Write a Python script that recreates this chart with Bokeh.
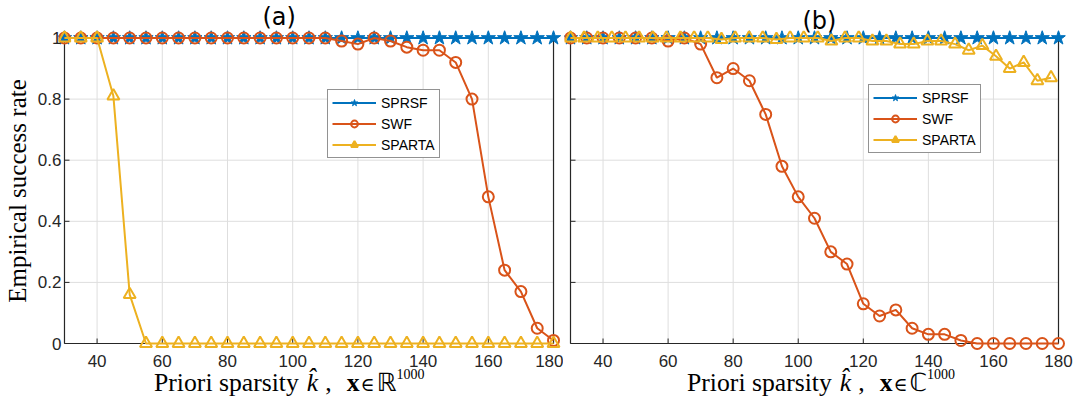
from bokeh.plotting import figure
from bokeh.models import Range1d, Legend, LegendItem, FixedTicker, Div
from bokeh.layouts import row, column
from bokeh.embed import file_html
from bokeh.resources import INLINE

# ---------------- data ----------------
k = [30, 35, 40, 45, 50, 55, 60, 65, 70, 75, 80, 85, 90, 95, 100, 105,
     110, 115, 120, 125, 130, 135, 140, 145, 150, 155, 160, 165, 170, 175, 180]

# panel (a): real signals
sprsf_a = [1, 1, 1, 1, 1, 1, 1, 1, 1, 1, 1, 1, 1, 1, 1, 1,
           1, 1, 1, 1, 1, 1, 1, 1, 1, 1, 1, 1, 1, 1, 1]
swf_a = [1, 1, 1, 1, 1, 1, 1, 1, 1, 1, 1, 1, 1, 1, 1, 1,
         1, 0.99, 0.98, 1.0, 0.99, 0.97, 0.96, 0.96, 0.92, 0.80, 0.48, 0.24, 0.17, 0.05, 0.01]
sparta_a = [1, 1, 1, 0.81, 0.16, 0, 0, 0, 0, 0, 0, 0, 0, 0, 0, 0,
            0, 0, 0, 0, 0, 0, 0, 0, 0, 0, 0, 0, 0, 0, 0]

# panel (b): complex signals
sprsf_b = [1, 1, 1, 1, 1, 1, 1, 1, 1, 1, 1, 1, 1, 1, 1, 1,
           1, 1, 1, 1, 1, 1, 1, 1, 1, 1, 1, 1, 1, 1, 1]
swf_b = [1, 1, 1, 1, 1, 1, 0.99, 1.0, 0.98, 0.87, 0.90, 0.86, 0.75, 0.58, 0.48, 0.41,
         0.30, 0.26, 0.13, 0.09, 0.11, 0.05, 0.03, 0.03, 0.01, 0.0, 0, 0, 0, 0, 0]
k_sparta_b = [30, 34.2, 38.4, 42.7, 46.9, 51.1, 55.3, 59.5, 63.8, 68.0, 72.2, 76.4,
              80.6, 84.9, 89.1, 93.3, 97.5, 101.7, 106.0, 110.2, 114.4, 118.6,
              122.8, 127.1, 131.3, 135.5, 139.7, 143.9, 148.2, 152.4, 156.6, 160.8,
              165.0, 169.3, 173.5, 177.7]
sparta_b = [1, 1, 1, 1, 1, 1, 1, 1, 1, 1, 1, 0.995, 1, 1, 1, 0.995, 1, 1, 1, 0.99, 1, 1,
            0.99, 0.99, 0.98, 0.98, 0.99, 0.99, 0.98, 0.96, 0.975, 0.94, 0.90, 0.92, 0.86, 0.87]

x_ticks = [40, 60, 80, 100, 120, 140, 160, 180]
y_ticks = [0, 0.2, 0.4, 0.6, 0.8, 1]
y_tick_labels = ["0", "0.2", "0.4", "0.6", "0.8", "1"]
series_names = ["SPRSF", "SWF", "SPARTA"]

K_MIN, K_MAX = 30, 180
BLUE, ORANGE, YELLOW = "#0072BD", "#D95319", "#EDB120"
AXIS = "#262626"
GRID = "#dedede"
SANS = "Liberation Sans"
SERIF = "Liberation Serif"

W_TOTAL, H_TOTAL = 1073, 407
H = 374                        # figure height; the x-axis titles sit underneath
LABEL_H = H_TOTAL - H
TOP, BOTTOM = 30, 23           # borders around the plotting frame
PAD_T, PAD_B = 7.5, 8          # room around the axes box so edge markers are not cut
SY = (H - TOP - BOTTOM - PAD_T - PAD_B)  # pixels per unit of success rate


def make_panel(width, border_left, border_right, pad_l, pad_r, show_y):
    frame_w = width - border_left - border_right
    sx = (frame_w - pad_l - pad_r) / (K_MAX - K_MIN)
    p = figure(width=width, height=H, output_backend="svg", toolbar_location=None,
               x_range=Range1d(K_MIN - pad_l / sx, K_MAX + pad_r / sx),
               y_range=Range1d(-PAD_B / SY, 1 + PAD_T / SY),
               min_border_left=border_left, min_border_right=border_right,
               min_border_top=TOP, min_border_bottom=BOTTOM)
    p.outline_line_color = None
    p.xgrid.visible = False
    p.ygrid.visible = False
    p.background_fill_color = "white"
    p.border_fill_color = "white"

    for ax in (p.xaxis[0], p.yaxis[0]):
        ax.axis_line_color = None
        ax.major_tick_line_color = None
        ax.minor_tick_line_color = None
        ax.major_tick_in = 0
        ax.major_tick_out = 0
        ax.major_label_text_font = SANS
        ax.major_label_text_font_size = "17px"
        ax.major_label_text_color = AXIS
    p.xaxis.ticker = FixedTicker(ticks=x_ticks)
    p.xaxis.major_label_standoff = 3
    p.yaxis.ticker = FixedTicker(ticks=y_ticks)
    p.yaxis.major_label_overrides = {t: s for t, s in zip(y_ticks, y_tick_labels)}
    p.yaxis.major_label_standoff = -3
    p.yaxis.visible = show_y

    p.title.text_font = "DejaVu Sans"
    p.title.text_font_size = "24px"
    p.title.text_font_style = "normal"
    p.title.text_color = "black"
    p.title.align = "left"
    p.title.vertical_align = "bottom"

    # grid lines inside the axes box
    p.segment(x0=x_ticks, y0=[0] * len(x_ticks), x1=x_ticks, y1=[1] * len(x_ticks),
              line_color=GRID, line_width=1)
    inner_y = y_ticks[1:-1]
    p.segment(x0=[K_MIN] * len(inner_y), y0=inner_y, x1=[K_MAX] * len(inner_y), y1=inner_y,
              line_color=GRID, line_width=1)
    # inward tick marks
    tl = 5
    p.segment(x0=x_ticks, y0=[0] * len(x_ticks), x1=x_ticks, y1=[tl / SY] * len(x_ticks),
              line_color=AXIS, line_width=1)
    p.segment(x0=[K_MIN] * len(y_ticks), y0=y_ticks, x1=[K_MIN + tl / sx] * len(y_ticks), y1=y_ticks,
              line_color=AXIS, line_width=1)
    # axes box
    p.segment(x0=[K_MIN, K_MIN, K_MAX, K_MIN], y0=[0, 0, 0, 1],
              x1=[K_MIN, K_MAX, K_MAX, K_MAX], y1=[1, 0, 1, 1],
              line_color=AXIS, line_width=1.2)
    return p, sx


def add_series(p, xs_list, ys_list):
    colors = [BLUE, ORANGE, YELLOW]
    items = []
    for name, xs, ys, c in zip(series_names, xs_list, ys_list, colors):
        ln = p.line(xs, ys, line_color=c, line_width=2)
        if name == "SPRSF":
            mk = p.scatter(xs, ys, marker="star", size=15, fill_color=c, line_color=c, line_width=1)
        elif name == "SWF":
            mk = p.scatter(xs, ys, marker="circle", size=11, fill_color=None, line_color=c, line_width=2)
        else:
            mk = p.scatter(xs, ys, marker="triangle", size=12, fill_color=None, line_color=c, line_width=2)
        items.append(LegendItem(label=name, renderers=[ln, mk]))
    return items


def add_legend(p, items, loc):
    lg = Legend(items=items, location=loc, border_line_color=AXIS, border_line_width=1,
                background_fill_color="white", background_fill_alpha=1,
                label_text_font=SANS, label_text_font_size="14px", label_text_color="black",
                glyph_width=44, glyph_height=17, label_height=17, label_standoff=5,
                padding=4, spacing=4, margin=0)
    p.add_layout(lg)


def x_title(width, indent, set_symbol):
    size = 25.7
    base = 18                       # baseline inside the strip
    top = base - 0.84 * size
    html = (
        f'<div style="position:relative; width:{width}px; height:{LABEL_H}px;">'
        f'<div style="position:absolute; left:{indent}px; top:{top:.1f}px; white-space:nowrap; '
        f"font-family:'{SERIF}'; font-size:{size}px; line-height:{size}px; color:black;\">"
        'Priori sparsity'
        '<i style="margin-left:8px;">k&#770;</i>'
        '<span style="margin-left:7px;">,</span>'
        '<b style="margin-left:15px;">x</b>'
        "<span style=\"margin-left:1px; font-family:'DejaVu Serif'; font-size:19px;\">&isin;</span>"
        f"<span style=\"margin-left:2px; font-family:'DejaVu Sans'; font-size:25px;\">{set_symbol}</span>"
        '<span style="font-size:14px; position:relative; top:-12px;">1000</span>'
        '</div></div>'
    )
    return Div(text=html, width=width, height=LABEL_H, margin=0)


# ---------------- panel (a) ----------------
W1 = 563
pa, sxa = make_panel(W1, 57, 1, 6, 9, True)
items_a = add_series(pa, [k, k, k], [sprsf_a, swf_a, sparta_a])
add_legend(pa, items_a, (269, 193))
pa.title.text = "(a)"
pa.title.offset = 204
pa.title.standoff = 0
pa.yaxis.axis_label = "Empirical success rate"
pa.yaxis.axis_label_text_font = SERIF
pa.yaxis.axis_label_text_font_size = "25px"
pa.yaxis.axis_label_text_font_style = "normal"
pa.yaxis.axis_label_text_color = "black"
pa.yaxis.axis_label_standoff = 4

# ---------------- panel (b) ----------------
W2 = W_TOTAL - W1
pb, sxb = make_panel(W2, 1, 8, 6, 7, False)
items_b = add_series(pb, [k, k, k_sparta_b], [sprsf_b, swf_b, sparta_b])
add_legend(pb, items_b, (304, 198))
pb.title.text = "(b)"
pb.title.offset = 238
pb.title.standoff = -8

layout = column(row(pa, pb), row(x_title(W1, 154, "&#8477;"), x_title(W2, 687 - W1, "&#8450;")))
open("out.html", "w").write(file_html(layout, INLINE))
